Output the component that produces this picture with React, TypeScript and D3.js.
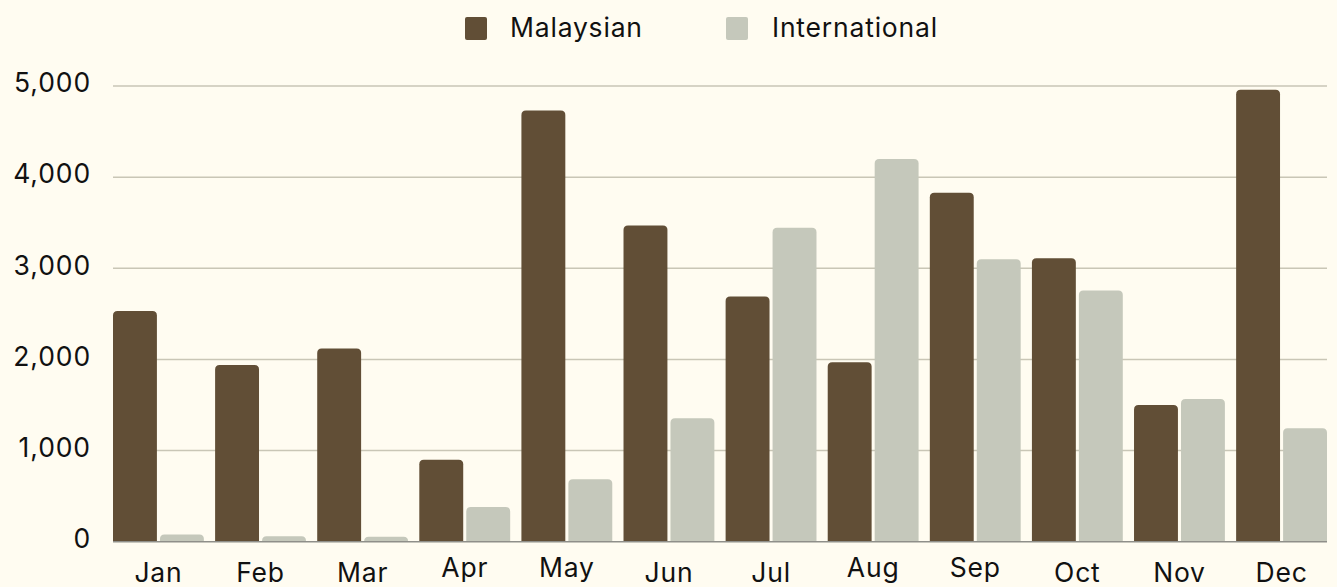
import React from 'react';
import * as d3 from 'd3';

const months = ['Jan', 'Feb', 'Mar', 'Apr', 'May', 'Jun', 'Jul', 'Aug', 'Sep', 'Oct', 'Nov', 'Dec'];
const malaysian = [2530, 1940, 2120, 900, 4730, 3470, 2690, 1970, 3830, 3110, 1500, 4960];
const international = [80, 60, 55, 380, 685, 1355, 3445, 4200, 3100, 2755, 1565, 1245];
const seriesNames = ['Malaysian', 'International'];
const yTicks = [0, 1000, 2000, 3000, 4000, 5000];

const W = 1337;
const H = 587;
const colors = ['#614e36', '#c5c8bb'];
const font = 'Inter, "Open Sans", sans-serif';

// bar with rounded top corners only
function topRounded(x: number, y: number, w: number, h: number, r: number) {
  const rr = Math.min(r, h, w / 2);
  return `M${x},${y + h}V${y + rr}Q${x},${y} ${x + rr},${y}H${x + w - rr}Q${x + w},${y} ${x + w},${y + rr}V${y + h}Z`;
}

export default function App() {
  const margin = { left: 113, right: 10, top: 86, bottom: 45 };
  const x0 = d3.scaleBand<string>().domain(months).range([margin.left, W - margin.right]).paddingInner(0.11).paddingOuter(0);
  const x1 = d3.scaleBand<string>().domain(seriesNames).range([0, x0.bandwidth()]).paddingInner(0.065);
  const y = d3.scaleLinear().domain([0, 5000]).range([541.7, margin.top]);
  const fmt = d3.format(',');
  const series = [malaysian, international];

  return (
    <svg width={W} height={H} style={{ position: 'absolute', left: 0, top: 0, background: '#fffcf1' }}>
      <rect width={W} height={H} fill="#fffcf1" />
      {/* legend */}
      <g fontFamily={font} fontSize={26.5} fill="#111" letterSpacing={0.8}>
        <rect x={465} y={17} width={22} height={23} rx={2} fill={colors[0]} />
        <text x={510} y={27.5} dy="0.35em">{seriesNames[0]}</text>
        <rect x={726} y={17} width={22} height={23} rx={2} fill={colors[1]} />
        <text x={772} y={27.5} dy="0.35em">{seriesNames[1]}</text>
      </g>
      {/* grid + y labels */}
      <g fontFamily={font} fontSize={26.5} fill="#111" textAnchor="end" letterSpacing={0.9}>
        {yTicks.map(t => (
          <g key={t}>
            {t > 0 && <line x1={margin.left} x2={W - margin.right} y1={y(t)} y2={y(t)} stroke="#c9c6b6" strokeWidth={1.5} />}
            <text x={91} y={y(t) - 3} dy="0.35em">{fmt(t)}</text>
          </g>
        ))}
      </g>
      {/* bars */}
      {months.map((m, i) => (
        <g key={m} transform={`translate(${x0(m)},0)`}>
          {seriesNames.map((s, j) => {
            const v = series[j][i];
            return (
              <path key={s} d={topRounded(x1(s)!, y(v), x1.bandwidth(), y(0) - y(v), 4.5)} fill={colors[j]} />
            );
          })}
        </g>
      ))}
      <line x1={margin.left} x2={W - margin.right} y1={y(0)} y2={y(0)} stroke="#8f8f8a" strokeWidth={1.5} />
      {/* x labels, centred on their glyph box like the original */}
      <g fontFamily={font} fontSize={26.5} fill="#111" textAnchor="middle" letterSpacing={0.8}>
        {months.map(m => (
          <text key={m} x={x0(m)! + x0.bandwidth() / 2} y={/[gjpqy]/.test(m) ? 577 : 582}>{m}</text>
        ))}
      </g>
    </svg>
  );
}
